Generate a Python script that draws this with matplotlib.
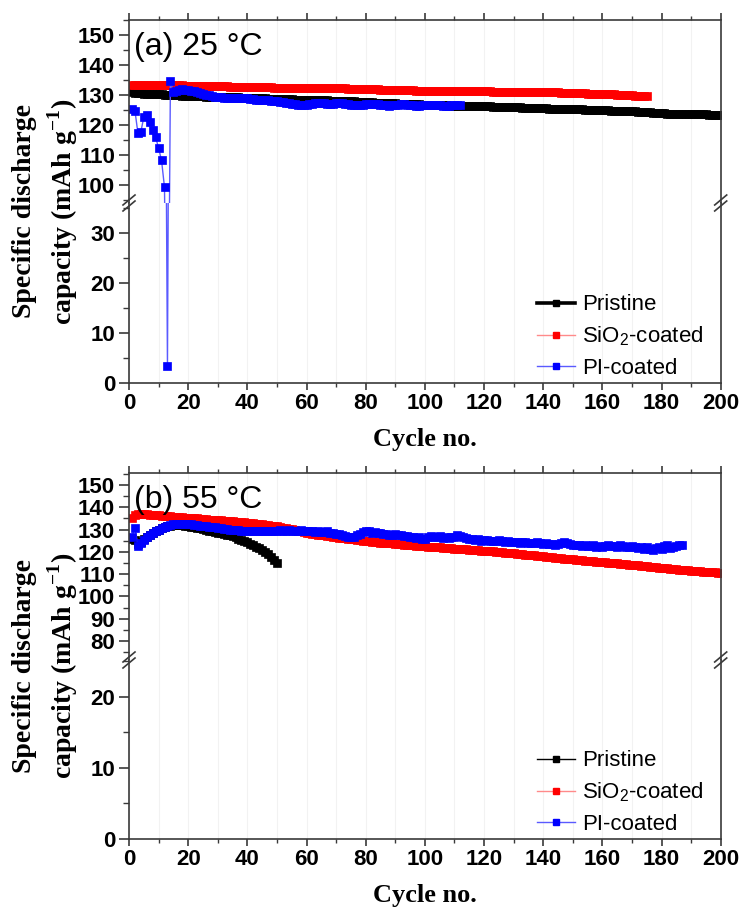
import matplotlib
matplotlib.use("Agg")
import matplotlib.pyplot as plt
from matplotlib.ticker import MultipleLocator
from matplotlib.lines import Line2D

plt.rcParams['font.family'] = 'Liberation Sans'
plt.rcParams['mathtext.fontset'] = 'custom'
plt.rcParams['mathtext.rm'] = 'Liberation Sans'
plt.rcParams['mathtext.bf'] = 'Liberation Serif:bold'

# ---- 25 °C, discharge capacity per cycle (mAh/g) ----
pristine_25 = [
    130.9, 130.8, 130.7, 130.6, 130.5, 130.5, 130.4, 130.3, 130.3, 130.2,
    130.2, 130.1, 130.1, 130.0, 130.0, 129.9, 129.9, 129.8, 129.8, 129.8,
    129.7, 129.7, 129.6, 129.6, 129.6, 129.5, 129.5, 129.5, 129.4, 129.4,
    129.4, 129.3, 129.3, 129.3, 129.2, 129.2, 129.2, 129.1, 129.1, 129.1,
    129.0, 129.0, 129.0, 128.9, 128.9, 128.9, 128.8, 128.8, 128.8, 128.7,
    128.7, 128.7, 128.6, 128.6, 128.6, 128.5, 128.5, 128.5, 128.4, 128.4,
    128.4, 128.3, 128.3, 128.3, 128.2, 128.2, 128.2, 128.1, 128.1, 128.1,
    128.0, 128.0, 128.0, 127.9, 127.9, 127.9, 127.8, 127.8, 127.7, 127.7,
    127.6, 127.6, 127.5, 127.5, 127.4, 127.4, 127.3, 127.3, 127.2, 127.2,
    127.1, 127.1, 127.0, 127.0, 127.0, 126.9, 126.9, 126.9, 126.8, 126.8,
    126.8, 126.7, 126.7, 126.7, 126.6, 126.6, 126.6, 126.5, 126.5, 126.5,
    126.4, 126.4, 126.4, 126.4, 126.3, 126.3, 126.3, 126.3, 126.2, 126.2,
    126.2, 126.2, 126.1, 126.1, 126.1, 126.1, 126.0, 126.0, 126.0, 125.9,
    125.9, 125.9, 125.8, 125.8, 125.8, 125.7, 125.7, 125.7, 125.6, 125.6,
    125.6, 125.5, 125.5, 125.5, 125.4, 125.4, 125.4, 125.3, 125.3, 125.3,
    125.2, 125.2, 125.2, 125.1, 125.1, 125.1, 125.0, 125.0, 125.0, 124.9,
    124.9, 124.9, 124.8, 124.8, 124.8, 124.7, 124.7, 124.7, 124.6, 124.6,
    124.6, 124.5, 124.5, 124.4, 124.4, 124.2, 124.0, 123.9, 123.9, 123.9,
    123.9, 123.8, 123.8, 123.8, 123.8, 123.8, 123.7, 123.7, 123.7, 123.7,
    123.7, 123.6, 123.6, 123.6, 123.6, 123.5, 123.5, 123.5, 123.4, 123.4,
]
sio2_25 = [
    133.5, 133.5, 133.5, 133.4, 133.4, 133.4, 133.4, 133.4, 133.3, 133.3,
    133.3, 133.3, 133.3, 133.2, 133.2, 133.2, 133.2, 133.2, 133.1, 133.1,
    133.1, 133.1, 133.1, 133.0, 133.0, 133.0, 133.0, 133.0, 132.9, 132.9,
    132.9, 132.9, 132.9, 132.8, 132.8, 132.8, 132.8, 132.8, 132.7, 132.7,
    132.7, 132.7, 132.7, 132.6, 132.6, 132.6, 132.6, 132.6, 132.5, 132.5,
    132.5, 132.5, 132.5, 132.4, 132.4, 132.4, 132.4, 132.4, 132.3, 132.3,
    132.3, 132.3, 132.3, 132.2, 132.2, 132.2, 132.2, 132.2, 132.2, 132.2,
    132.2, 132.2, 132.2, 132.1, 132.1, 132.1, 132.1, 132.1, 132.0, 132.0,
    132.0, 131.9, 131.9, 131.9, 131.8, 131.8, 131.8, 131.8, 131.7, 131.7,
    131.7, 131.7, 131.6, 131.6, 131.6, 131.6, 131.5, 131.5, 131.5, 131.5,
    131.5, 131.5, 131.4, 131.4, 131.4, 131.4, 131.4, 131.4, 131.4, 131.4,
    131.4, 131.3, 131.3, 131.3, 131.3, 131.3, 131.2, 131.2, 131.2, 131.2,
    131.2, 131.2, 131.1, 131.1, 131.1, 131.1, 131.1, 131.0, 131.0, 131.0,
    131.0, 131.0, 131.0, 131.0, 130.9, 130.9, 130.9, 130.9, 130.9, 130.9,
    130.9, 130.9, 130.9, 130.9, 130.9, 130.8, 130.8, 130.8, 130.7, 130.7,
    130.7, 130.6, 130.6, 130.6, 130.5, 130.5, 130.5, 130.4, 130.4, 130.4,
    130.3, 130.3, 130.2, 130.2, 130.1, 130.1, 130.0, 130.0, 129.9, 129.9,
    129.8, 129.8, 129.7, 129.6, 129.6,
]
pi_25 = [
    125.2, 124.8, 117.4, 117.7, 122.6, 123.2, 121.0, 118.5, 116.0, 112.3,
    108.2, 99.2, 3.4, 134.8, 131.0, 131.5, 131.8, 132.0, 131.8, 131.6,
    131.4, 131.2, 131.0, 130.7, 130.4, 130.1, 129.9, 129.7, 129.5, 129.3,
    129.2, 129.1, 129.0, 128.9, 128.9, 128.9, 128.9, 129.0, 129.0, 128.9,
    128.7, 128.6, 128.5, 128.4, 128.3, 128.3, 128.2, 128.1, 128.0, 127.9,
    127.8, 127.7, 127.5, 127.3, 127.1, 126.9, 126.8, 126.7, 126.7, 126.8,
    127.0, 127.1, 127.2, 127.2, 127.2, 127.2, 127.1, 127.0, 127.1, 127.2,
    127.3, 127.2, 127.0, 126.9, 126.8, 126.7, 126.6, 126.7, 126.8, 126.9,
    127.0, 127.1, 127.0, 126.9, 126.8, 126.7, 126.6, 126.5, 126.6, 126.7,
    126.8, 126.9, 126.9, 126.8, 126.7, 126.6, 126.5, 126.5, 126.6, 126.7,
    126.7, 126.8, 126.8, 126.7, 126.6, 126.5, 126.5, 126.5, 126.6, 126.6,
    126.7, 126.7,
]

# ---- 55 °C ----
pristine_55 = [
    126.0, 125.5, 123.5, 124.5, 125.8, 126.8, 127.7, 128.5, 129.2, 129.9,
    130.5, 131.0, 131.4, 131.7, 131.9, 132.0, 132.0, 131.9, 131.8, 131.6,
    131.3, 131.0, 130.8, 130.5, 130.2, 129.9, 129.6, 129.3, 129.0, 128.7,
    128.5, 128.2, 127.8, 127.4, 127.0, 126.5, 126.0, 125.5, 124.9, 124.3,
    123.7, 123.0, 122.3, 121.6, 120.8, 119.9, 118.9, 117.8, 116.4, 114.8,
]
sio2_55 = [
    135.3, 136.4, 136.8, 136.9, 136.9, 136.8, 136.7, 136.6, 136.5, 136.4,
    136.3, 136.2, 136.0, 135.9, 135.8, 135.7, 135.6, 135.5, 135.4, 135.3,
    135.2, 135.1, 135.0, 134.9, 134.8, 134.7, 134.5, 134.4, 134.3, 134.2,
    134.1, 134.0, 133.9, 133.8, 133.7, 133.5, 133.4, 133.3, 133.2, 133.0,
    132.9, 132.8, 132.6, 132.5, 132.3, 132.2, 132.0, 131.8, 131.6, 131.4,
    131.2, 130.9, 130.7, 130.4, 130.1, 129.8, 129.5, 129.2, 128.9, 128.6,
    128.4, 128.2, 128.0, 127.8, 127.6, 127.4, 127.2, 127.0, 126.8, 126.6,
    126.4, 126.3, 126.1, 125.9, 125.7, 125.6, 125.4, 125.2, 125.0, 124.9,
    124.7, 124.6, 124.4, 124.3, 124.2, 124.1, 124.0, 123.9, 123.8, 123.6,
    123.5, 123.4, 123.3, 123.2, 123.1, 123.0, 122.8, 122.7, 122.6, 122.5,
    122.4, 122.3, 122.2, 122.1, 122.0, 121.9, 121.8, 121.7, 121.6, 121.5,
    121.4, 121.3, 121.2, 121.1, 121.0, 120.9, 120.8, 120.7, 120.6, 120.5,
    120.4, 120.3, 120.2, 120.0, 119.9, 119.8, 119.7, 119.5, 119.4, 119.3,
    119.2, 119.0, 118.9, 118.8, 118.6, 118.5, 118.4, 118.2, 118.1, 118.0,
    117.8, 117.7, 117.6, 117.4, 117.3, 117.2, 117.0, 116.9, 116.8, 116.6,
    116.5, 116.4, 116.3, 116.1, 116.0, 115.9, 115.8, 115.6, 115.5, 115.4,
    115.3, 115.1, 115.0, 114.9, 114.8, 114.6, 114.5, 114.4, 114.3, 114.1,
    114.0, 113.9, 113.8, 113.6, 113.5, 113.4, 113.3, 113.1, 113.0, 112.9,
    112.8, 112.6, 112.5, 112.4, 112.3, 112.1, 112.0, 111.9, 111.8, 111.6,
    111.5, 111.4, 111.3, 111.2, 111.1, 111.0, 110.9, 110.8, 110.7, 110.6,
]
pi_55 = [
    126.8, 130.8, 122.8, 124.0, 125.5, 126.6, 127.5, 128.4, 129.2, 129.9,
    130.6, 131.2, 131.7, 132.1, 132.4, 132.6, 132.7, 132.7, 132.6, 132.5,
    132.4, 132.2, 132.0, 131.8, 131.6, 131.4, 131.3, 131.1, 131.0, 130.8,
    130.6, 130.4, 130.2, 130.0, 129.9, 129.8, 129.7, 129.6, 129.6, 129.5,
    129.5, 129.4, 129.4, 129.4, 129.5, 129.4, 129.5, 129.4, 129.6, 129.5,
    129.9, 129.6, 129.5, 129.7, 129.4, 129.3, 129.5, 129.8, 129.4, 129.2,
    129.5, 129.3, 129.0, 129.4, 128.8, 128.9, 129.2, 128.6, 128.3, 128.0,
    127.9, 127.5, 127.2, 126.9, 126.7, 126.5, 127.4, 128.2, 128.8, 129.2,
    129.3, 128.7, 128.9, 128.3, 128.5, 128.0, 128.2, 127.8, 127.6, 127.9,
    127.4, 127.6, 127.1, 127.3, 126.8, 126.9, 126.3, 126.6, 125.9, 125.8,
    126.5, 127.2, 126.8, 126.6, 127.0, 126.4, 126.7, 126.2, 126.5, 126.9,
    127.8, 127.3, 126.6, 126.1, 125.8, 125.9, 125.3, 125.6, 125.1, 125.2,
    125.5, 124.9, 125.0, 124.8, 125.3, 124.7, 124.6, 124.9, 124.3, 124.5,
    124.6, 124.1, 124.4, 124.5, 124.2, 123.9, 124.0, 124.3, 123.8, 123.6,
    123.9, 123.5, 123.6, 123.3, 123.5, 124.0, 124.6, 123.9, 123.4, 123.2,
    123.0, 123.2, 122.8, 122.9, 122.7, 122.5, 122.9, 122.4, 122.6, 122.3,
    122.8, 123.0, 122.5, 122.7, 122.4, 122.9, 122.6, 122.1, 122.3, 122.8,
    122.1, 121.7, 122.2, 121.5, 122.4, 121.2, 121.0, 121.6, 122.3, 121.4,
    122.5, 123.0, 121.8, 122.4, 122.8, 123.2, 122.9,
]

labels = ["Pristine", "SiO$_2$-coated", "PI-coated"]
marker_colors = ["black", "#ff0000", "#0000ff"]
line_colors = ["black", "#ff8a8a", "#5a5aff"]

W, H = 743, 918
fig = plt.figure(figsize=(W / 100, H / 100), dpi=100)


def box(left, top, right, bottom):
    return [left / W, 1 - bottom / H, (right - left) / W, (bottom - top) / H]


panels = [
    dict(tag="(a) 25 \u00b0C", top=20, brk=203, bot=383,
         up=(94, 155), up_ticks=[100, 110, 120, 130, 140, 150],
         low=(0, 36), low_ticks=[0, 10, 20, 30],
         series=[pristine_25, sio2_25, pi_25], pristine_lw=2.6),
    dict(tag="(b) 55 \u00b0C", top=473, brk=660, bot=839,
         up=(71.5, 155.4), up_ticks=[80, 90, 100, 110, 120, 130, 140, 150],
         low=(0, 25.2), low_ticks=[0, 10, 20],
         series=[pristine_55, sio2_55, pi_55], pristine_lw=1.0),
]

LEFT, RIGHT = 129, 720.7
spine_col = "#3a3a3a"
xticks = list(range(0, 201, 20))

for p in panels:
    ax_up = fig.add_axes(box(LEFT, p["top"], RIGHT, p["brk"]))
    ax_lo = fig.add_axes(box(LEFT, p["brk"], RIGHT, p["bot"]))

    for ax in (ax_up, ax_lo):
        for i, vals in enumerate(p["series"]):
            lw = p["pristine_lw"] if i == 0 else 1.0
            ax.plot(range(1, len(vals) + 1), vals, "-s", color=line_colors[i],
                    lw=lw, ms=5.4, mfc=marker_colors[i], mec=marker_colors[i],
                    mew=0.5)
        ax.set_xlim(0, 200)
        ax.xaxis.set_minor_locator(MultipleLocator(10))
        ax.yaxis.set_minor_locator(MultipleLocator(5))
        ax.grid(True, axis="x", which="both", color="#f2f2f2", lw=0.8)
        ax.set_axisbelow(True)
        for s in ax.spines.values():
            s.set_color(spine_col)
            s.set_linewidth(1.2)
        ax.tick_params(axis="y", which="major", direction="out", length=7,
                       width=1.2, color=spine_col, pad=3, right=False)
        ax.tick_params(axis="y", which="minor", direction="out", length=4,
                       width=1.0, color=spine_col, right=False)
        ax.tick_params(axis="x", which="major", direction="out", length=5,
                       width=1.2, color=spine_col, pad=2)
        ax.tick_params(axis="x", which="minor", direction="out", length=3,
                       width=1.0, color=spine_col)

    ax_up.set_ylim(*p["up"])
    ax_up.set_yticks(p["up_ticks"])
    ax_up.set_yticklabels([str(t) for t in p["up_ticks"]], fontsize=16,
                          fontweight="bold")
    ax_up.spines["bottom"].set_visible(False)
    ax_up.tick_params(axis="x", which="both", bottom=False, top=True,
                      labelbottom=False)
    ax_up.set_xticks(xticks)

    ax_lo.set_ylim(*p["low"])
    ax_lo.set_yticks(p["low_ticks"])
    ax_lo.set_yticklabels([str(t) for t in p["low_ticks"]], fontsize=16,
                          fontweight="bold")
    ax_lo.spines["top"].set_visible(False)
    ax_lo.set_xticks(xticks)
    ax_lo.set_xticklabels([str(t) for t in xticks], fontsize=16,
                          fontweight="bold")
    ax_lo.set_xlabel("Cycle no.", family="Liberation Serif", fontweight="bold",
                     fontsize=19, labelpad=10)

    ax_up.text(0.008, 0.855, p["tag"], transform=ax_up.transAxes,
               fontsize=23, va="center", ha="left")

    # break marks on both vertical spines
    for xpix in (LEFT, RIGHT):
        for off in (-3, 3):
            y0 = p["brk"] + off
            fig.add_artist(Line2D([(xpix - 6) / W, (xpix + 6) / W],
                                  [1 - (y0 + 5) / H, 1 - (y0 - 5) / H],
                                  color=spine_col, lw=1.2))

    handles = []
    for i in range(3):
        lw = p["pristine_lw"] if i == 0 else 1.0
        handles.append(Line2D([], [], color=line_colors[i], lw=lw, marker="s",
                              ms=4.6, mfc=marker_colors[i],
                              mec=marker_colors[i]))
    ax_lo.legend(handles, labels, loc="lower left",
                 bbox_to_anchor=(0.675, -0.025), frameon=False, fontsize=16,
                 handlelength=1.7, handletextpad=0.3, labelspacing=0.42,
                 borderaxespad=0.2, borderpad=0.2)

    mid = (p["top"] + p["bot"]) / 2 + 10
    fig.text(46 / W, 1 - mid / H,
             "Specific discharge\ncapacity (mAh g$^{\\mathbf{-1}}$)",
             rotation=90, ha="center", va="center", family="Liberation Serif",
             fontweight="bold", fontsize=20, linespacing=1.3)

fig.savefig("out.png", dpi=100)
